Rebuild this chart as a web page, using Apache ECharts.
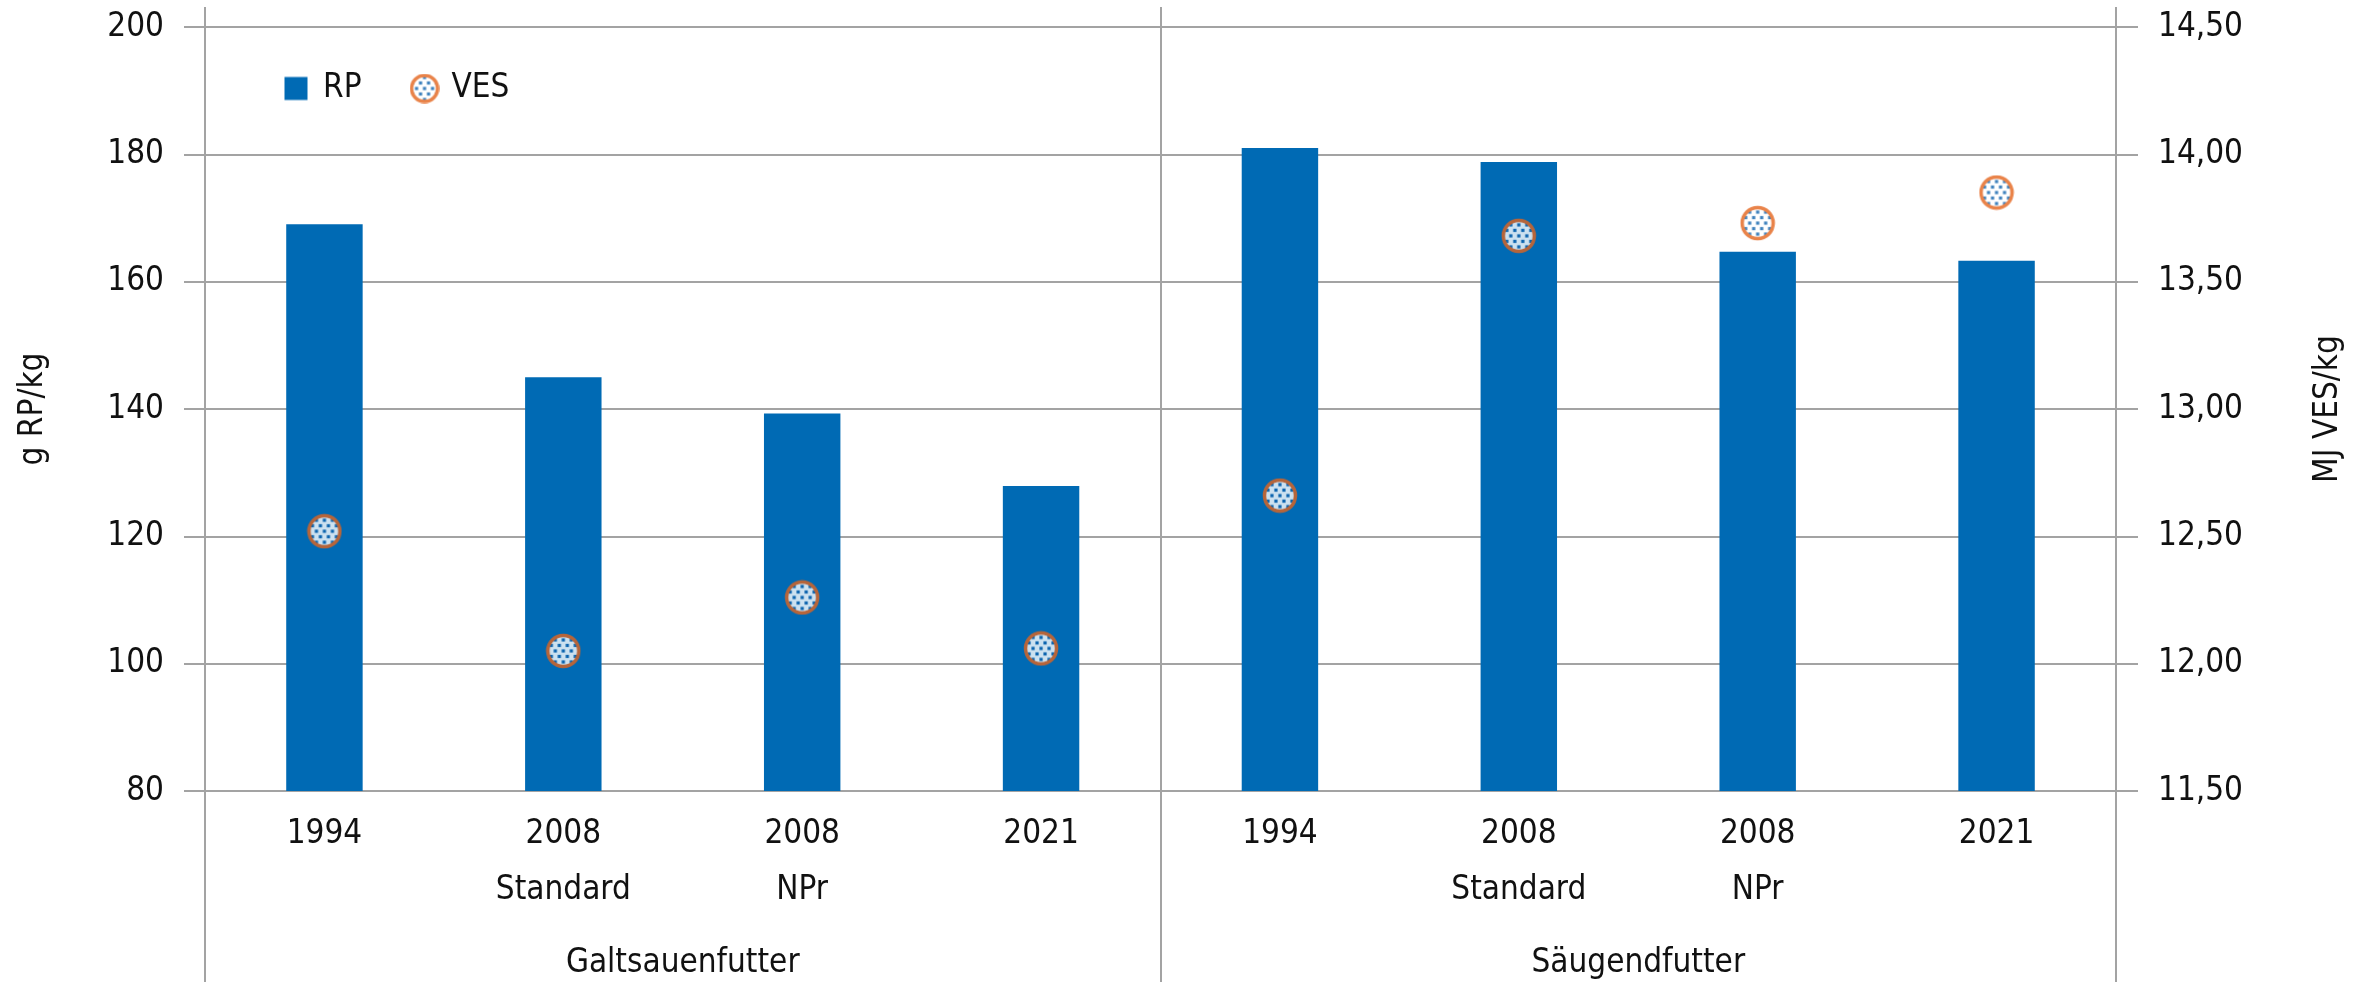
<!DOCTYPE html>
<html>
<head>
<meta charset="utf-8">
<title>RP und VES in Sauenfutter</title>
<script src="https://cdn.jsdelivr.net/npm/echarts@6/dist/echarts.min.js"></script>
<style>
  html, body { margin: 0; padding: 0; background: #ffffff; }
  #chart { width: 2368px; height: 987px; }
</style>
</head>
<body>
<div id="chart"></div>
<script>
// Feed types on the x axis, each with four feeding standards
const categories = ['1994', '2008\nStandard', '2008\nNPr', '2021', '1994', '2008\nStandard', '2008\nNPr', '2021'];
const groups = ['Galtsauenfutter', 'Säugendfutter'];

// Crude protein (g RP / kg) – bars on the left axis
const rpValues = [169, 145, 139.3, 127.9, 181, 178.8, 164.7, 163.3];
// Energy (MJ VES / kg) – markers on the right axis
const vesValues = [12.52, 12.05, 12.26, 12.06, 12.66, 13.68, 13.73, 13.85];

// Axis ranges
const rpAxis = { min: 80, max: 200, interval: 20 };
const vesAxis = { min: 11.5, max: 14.5, interval: 0.5 };

const FONT = '"Liberation Sans Narrow", "DejaVu Sans Condensed", "Arial Narrow", sans-serif';
const TEXT = '#111111';
const GRAY = '#a3a3a3';
const BLUE = '#006ab4';
const ORANGE = '#e4641c';

// Round VES marker: white disc with staggered blue dots and an orange ring
function markerImage(size, r) {
  const c = document.createElement('canvas');
  c.width = size; c.height = size;
  const g = c.getContext('2d');
  const cx = size / 2, cy = size / 2;
  g.save();
  g.beginPath(); g.arc(cx, cy, r, 0, Math.PI * 2); g.closePath();
  g.fillStyle = '#ffffff'; g.fill();
  g.clip();
  g.fillStyle = '#0d62ad';
  const stepX = 8, stepY = 5.5;
  for (let row = -4; row <= 4; row++) {
    const y = cy + row * stepY;
    const shift = (Math.abs(row) % 2 === 0) ? 0 : stepX / 2;
    for (let col = -4; col <= 4; col++) {
      const x = cx + col * stepX + shift;
      g.fillRect(x - 1.6, y - 1.6, 3.2, 3.2);
    }
  }
  g.restore();
  g.beginPath(); g.arc(cx, cy, r, 0, Math.PI * 2); g.closePath();
  g.strokeStyle = ORANGE; g.lineWidth = 3.5; g.stroke();
  return 'image://' + c.toDataURL();
}

// Square legend key for the bars, inset within the legend cell
function squareImage(size, side) {
  const c = document.createElement('canvas');
  c.width = size; c.height = size;
  const g = c.getContext('2d');
  const o = (size - side) / 2;
  g.fillStyle = BLUE;
  g.fillRect(o, o, side, side);
  return 'image://' + c.toDataURL();
}

const VES_SYMBOL = markerImage(36, 15.5);
const VES_KEY = markerImage(30, 13);
const RP_KEY = squareImage(30, 23);

const chart = echarts.init(document.getElementById('chart'), null, { renderer: 'canvas' });

const grid = { left: 205, right: 252, top: 27, bottom: 196 };

const option = {
  animation: false,
  backgroundColor: '#ffffff',
  textStyle: { fontFamily: FONT, color: TEXT },
  grid: grid,
  legend: {
    left: 281, top: 72, padding: 0,
    itemWidth: 30, itemHeight: 30, itemGap: 48,
    textStyle: { fontFamily: FONT, fontSize: 33, color: TEXT, padding: [0, 0, 0, 7] },
    data: [{ name: 'RP', icon: RP_KEY }, { name: 'VES', icon: VES_KEY }]
  },
  xAxis: [
    {
      type: 'category',
      data: categories,
      gridIndex: 0,
      position: 'bottom',
      axisLine: { show: true, lineStyle: { color: GRAY, width: 2 } },
      axisTick: { show: false },
      axisLabel: {
        interval: 0, margin: 15,
        fontFamily: FONT, fontSize: 33, color: TEXT, lineHeight: 56
      },
      splitLine: { show: false }
    },
    {
      type: 'category',
      data: groups,
      gridIndex: 0,
      position: 'bottom',
      axisLine: { show: false },
      axisTick: { show: false },
      axisLabel: {
        interval: 0, margin: 152,
        fontFamily: FONT, fontSize: 33, color: TEXT, lineHeight: 40
      },
      splitLine: { show: false }
    }
  ],
  yAxis: [
    {
      type: 'value',
      position: 'left',
      min: rpAxis.min, max: rpAxis.max, interval: rpAxis.interval,
      name: 'g RP/kg',
      nameLocation: 'middle',
      nameRotate: 90,
      nameGap: 155,
      nameTextStyle: { fontFamily: FONT, fontSize: 33, color: TEXT },
      axisLine: { show: false },
      axisTick: { show: true, length: 21, lineStyle: { color: GRAY, width: 2 } },
      axisLabel: { margin: 41, fontFamily: FONT, fontSize: 33, color: TEXT },
      splitLine: { show: true, lineStyle: { color: GRAY, width: 2 } }
    },
    {
      type: 'value',
      position: 'right',
      min: vesAxis.min, max: vesAxis.max, interval: vesAxis.interval,
      name: 'MJ VES/kg',
      nameLocation: 'middle',
      nameRotate: 90,
      nameGap: 196,
      nameTextStyle: { fontFamily: FONT, fontSize: 33, color: TEXT },
      axisLine: { show: false },
      axisTick: { show: true, length: 22, lineStyle: { color: GRAY, width: 2 } },
      axisLabel: {
        margin: 42, fontFamily: FONT, fontSize: 33, color: TEXT,
        formatter: v => v.toFixed(2).replace('.', ',')
      },
      splitLine: { show: false }
    }
  ],
  series: [
    {
      name: 'RP',
      type: 'bar',
      xAxisIndex: 0, yAxisIndex: 0,
      barWidth: '32%',
      itemStyle: { color: BLUE },
      data: rpValues,
      z: 2
    },
    {
      name: 'VES',
      type: 'scatter',
      xAxisIndex: 0, yAxisIndex: 1,
      symbol: VES_SYMBOL,
      symbolSize: 36,
      data: vesValues,
      z: 5
    }
  ]
};

chart.setOption(option);

// Vertical frame lines: left edge, group divider and right edge, from top to bottom of the page
function frameLines() {
  const p0 = chart.convertToPixel({ xAxisIndex: 0 }, 0);
  const p1 = chart.convertToPixel({ xAxisIndex: 0 }, 1);
  const p3 = chart.convertToPixel({ xAxisIndex: 0 }, 3);
  const p4 = chart.convertToPixel({ xAxisIndex: 0 }, 4);
  const p7 = chart.convertToPixel({ xAxisIndex: 0 }, 7);
  const half = (p1 - p0) / 2;
  const xs = [p0 - half, (p3 + p4) / 2, p7 + half];
  const top = 7, bottom = 982;
  chart.setOption({
    graphic: xs.map(x => ({
      type: 'line',
      silent: true,
      z: 1,
      shape: { x1: Math.round(x), y1: top, x2: Math.round(x), y2: bottom },
      style: { stroke: GRAY, lineWidth: 2 }
    }))
  });
}
frameLines();
</script>
</body>
</html>
